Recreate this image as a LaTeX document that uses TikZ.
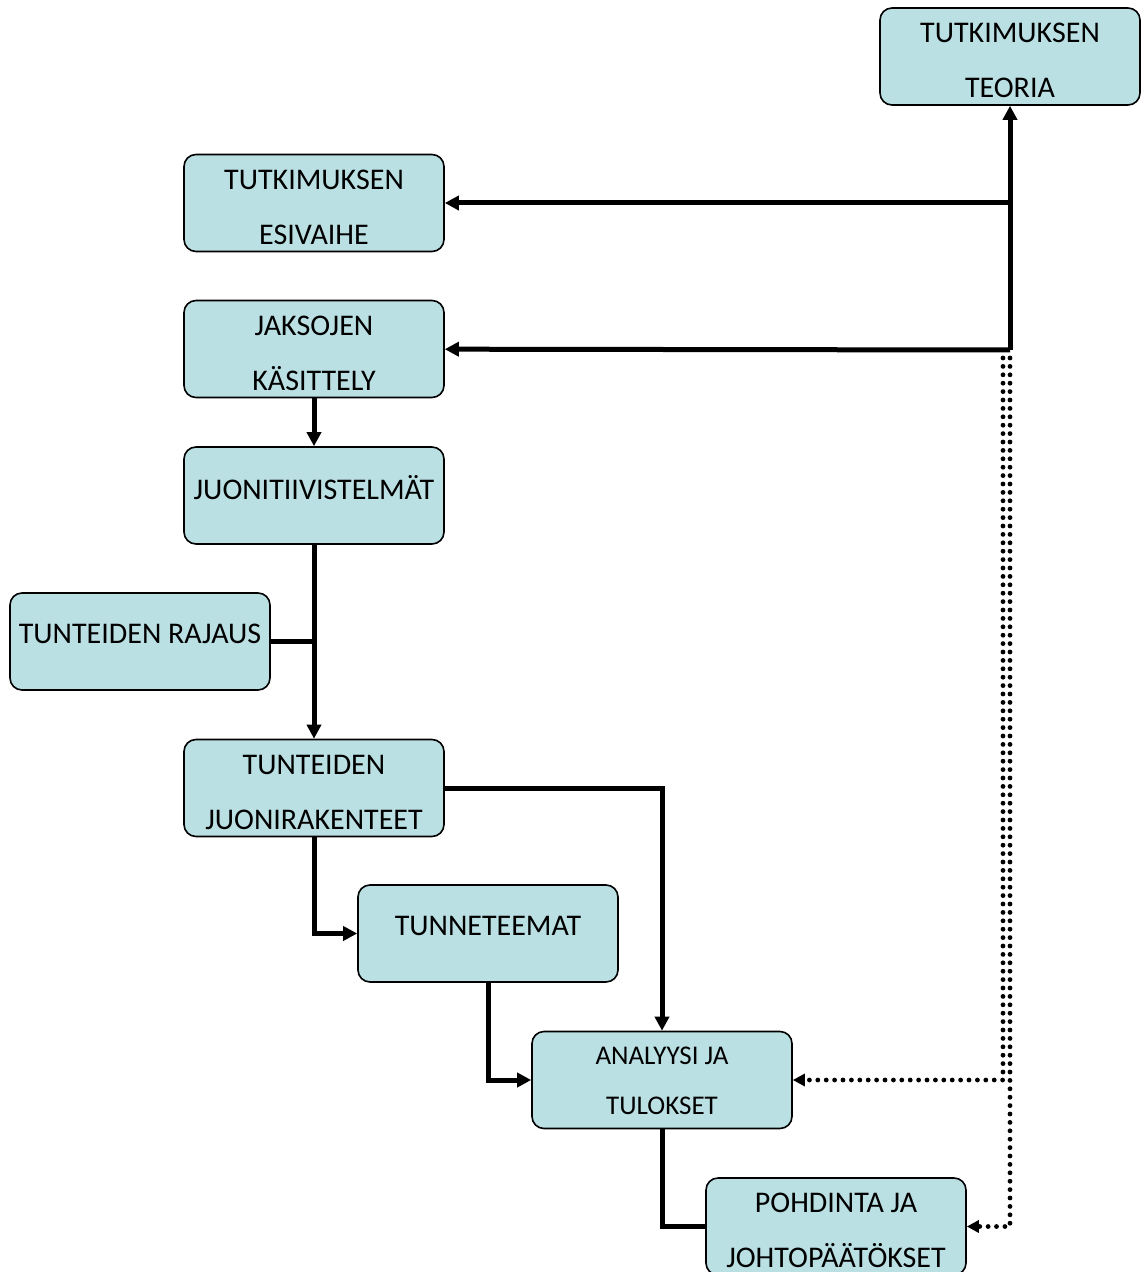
\documentclass[tikz,border=0pt]{standalone}
\usepackage{fontspec}
\setmainfont{Carlito}
\usepackage{tikz}
\usetikzlibrary{arrows.meta}
\definecolor{boxfill}{RGB}{186,224,227}
\newcommand{\tworow}[2]{\begin{tabular}[t]{@{}c@{}}#1\\#2\end{tabular}}

\tikzset{
  box/.style = {shape=rectangle, rounded corners=6pt, draw, line width=0.8pt,
    fill=boxfill, align=center, minimum width=130pt, minimum height=48.5pt,
    inner sep=0pt, font=\fontsize{15}{27.5}\selectfont},
  oneline/.style = {text depth=8pt},
  twoline/.style = {text height=17.4pt, text depth=31.1pt},
  flow/.style = {line width=2.5pt},
  arr/.style = {flow, -{Triangle[length=7pt,width=7pt]}},
  dots/.style = {line width=2.4pt, line cap=round, dash pattern=on 0pt off 4.2pt,
    -{Triangle[length=6pt,width=6pt]}}
}

\begin{document}
\begin{tikzpicture}[x=0.5pt, y=-0.5pt]
  \useasboundingbox (0,0) rectangle (1140,1272);

  \node[box, twoline] (teoria) at (1010,56.5) {\tworow{TUTKIMUKSEN}{TEORIA}};
  \node[box, twoline] (esivaihe) at (314,203) {\tworow{TUTKIMUKSEN}{ESIVAIHE}};
  \node[box, twoline] (kasittely) at (314,349) {\tworow{JAKSOJEN}{KÄSITTELY}};
  \node[box, oneline] (juoni) at (314,495.5) {JUONITIIVISTELMÄT};
  \node[box, oneline] (rajaus) at (140,641.5) {TUNTEIDEN RAJAUS};
  \node[box, twoline] (rakenteet) at (314,788) {\tworow{TUNTEIDEN}{JUONIRAKENTEET}};
  \node[box, oneline] (teemat) at (488,933.5) {TUNNETEEMAT};
  \node[box, text height=16.4pt, text depth=32.1pt,
    font=\fontsize{13.5}{25}\selectfont] (analyysi) at (662,1080) {\tworow{ANALYYSI JA}{TULOKSET}};
  \node[box, twoline] (pohdinta) at (836,1226.5) {\tworow{POHDINTA JA}{JOHTOPÄÄTÖKSET}};

  \coordinate (hub) at (1010,350);
  \coordinate (dota) at (1003,358);
  \coordinate (dotb) at (1010,358);

  % theory branches
  \draw[arr] (hub) -- (teoria);
  \draw[arr] (hub |- esivaihe) -- (esivaihe);
  \draw[arr] (hub) -- (kasittely);
  \draw[dots] (dota) |- (analyysi);
  \draw[dots] (dotb) |- (pohdinta);

  % main chain
  \draw[arr] (kasittely) -- (juoni);
  \draw[arr] (juoni) -- (rakenteet);
  \draw[flow] (rajaus.east) -- (rajaus.east -| juoni.south);
  \draw[arr] (rakenteet.east) -| (analyysi);
  \draw[arr] (rakenteet.south) |- (teemat);
  \draw[arr] (teemat.south) |- (analyysi);
  \draw[flow] (analyysi.south) |- (pohdinta.west);
\end{tikzpicture}
\end{document}
